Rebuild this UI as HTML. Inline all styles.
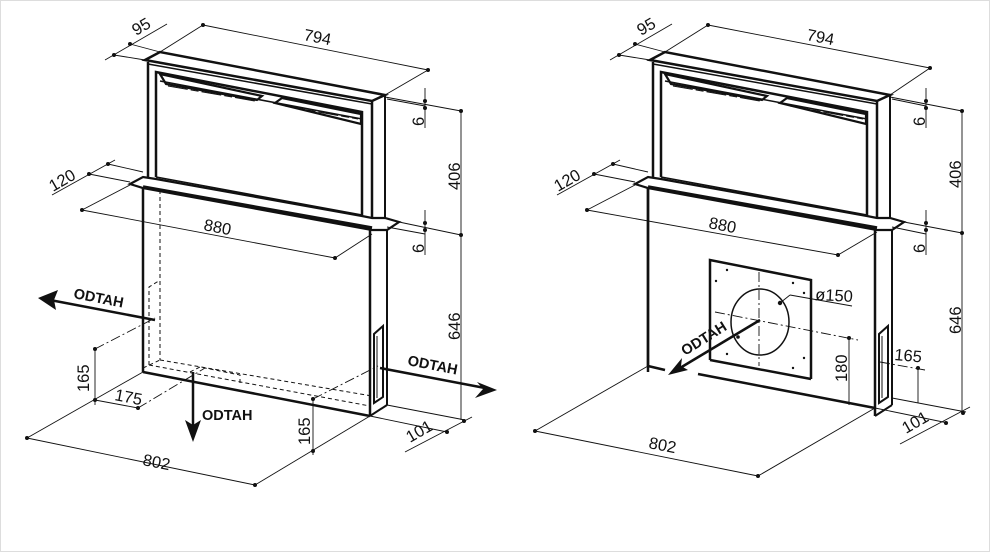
<!DOCTYPE html>
<html><head><meta charset="utf-8"><style>
html,body{margin:0;padding:0;background:#fff;}
svg{display:block}
text{font-family:"Liberation Sans",sans-serif;font-size:16.5px;fill:#111}
.b{font-weight:bold;font-size:14.5px}
</style></head><body>
<svg width="990" height="552" viewBox="0 0 990 552" xmlns="http://www.w3.org/2000/svg">
<rect x="0.5" y="0.5" width="989" height="551" fill="#fff" stroke="#ddd"/>
<defs>
<g id="hood" fill="none" stroke="#111">
  <polygon points="145,60 160,52 385,95 372,101" stroke-width="2.5" fill="#fff"/>
  <line x1="148" y1="62" x2="148" y2="180" stroke-width="2.5"/>
  <line x1="372" y1="101" x2="372" y2="224" stroke-width="2.5"/>
  <line x1="385" y1="95" x2="385" y2="220" stroke-width="2"/>
  <line x1="148" y1="64" x2="372" y2="104" stroke-width="1.5"/>
  <polyline points="156,177 156,72 362,112 362,215" stroke-width="2.5"/>
  <line x1="156" y1="177" x2="362" y2="215" stroke-width="1.5"/>
  <line x1="160" y1="81" x2="362" y2="119" stroke-width="1.5"/>
  <polygon points="160,74 166,84 257,100 262,96" stroke-width="2.2"/>
  <polygon points="275,103 282,98 361,114 361,124" stroke-width="2.2"/>
  <line x1="168" y1="86" x2="255" y2="101" stroke-width="1" stroke-dasharray="20,3,8,3"/>
  <line x1="285" y1="106" x2="358" y2="119" stroke-width="1" stroke-dasharray="20,3,8,3"/>
  <polygon points="130,184 143,177 156,179 362,216 372,218 385,218 399,222 387,230 372,230 143,188" stroke-width="2.2" fill="#fff"/>
  <line x1="143" y1="187" x2="372" y2="228" stroke-width="3.5"/>
  <line x1="143" y1="187" x2="143" y2="372" stroke-width="2.5"/>
  <line x1="370" y1="229" x2="370" y2="416" stroke-width="2.5"/>
  <line x1="387" y1="229" x2="387" y2="405" stroke-width="2"/>
  <line x1="370" y1="416" x2="387" y2="405" stroke-width="2"/>
  <polygon points="374,403 374,334 383,326 383,397" stroke-width="2"/>
  <line x1="377" y1="398" x2="377" y2="336" stroke-width="1"/>
</g>
</defs>

<use href="#hood"/>
<g fill="none" stroke="#111">
  <line x1="143" y1="372" x2="370" y2="416" stroke-width="2.5"/>
  <g stroke-width="1" stroke-dasharray="4,3">
    <line x1="160" y1="190" x2="160" y2="360"/>
    <polyline points="149,365 149,287 157,282 160,282"/>
    <line x1="149" y1="365" x2="370" y2="406"/>
    <line x1="143" y1="368" x2="160" y2="360"/>
    <line x1="160" y1="360" x2="372" y2="396"/>
    <polyline points="190,372 200,367 240,375 240,385"/>
  </g>
  <g stroke-width="0.9">
    <line x1="105" y1="60" x2="167" y2="24"/>
    <line x1="114" y1="55" x2="145" y2="60"/>
    <line x1="130" y1="44" x2="160" y2="52"/>
    <line x1="160" y1="52" x2="203" y2="25"/>
    <line x1="203" y1="25" x2="428" y2="70"/>
    <line x1="385" y1="95" x2="428" y2="70"/>
    <line x1="385" y1="97" x2="461" y2="111"/>
    <line x1="387" y1="99" x2="425" y2="106"/>
    <line x1="425" y1="88" x2="425" y2="128"/>
    <line x1="461" y1="111" x2="461" y2="420"/>
    <line x1="399" y1="222" x2="461" y2="235"/>
    <line x1="387" y1="227" x2="425" y2="234"/>
    <line x1="425" y1="210" x2="425" y2="255"/>
    <line x1="387" y1="405" x2="465" y2="420"/>
    <line x1="52" y1="195" x2="115" y2="160"/>
    <line x1="108" y1="164" x2="143" y2="172"/>
    <line x1="89" y1="174" x2="130" y2="182"/>
    <line x1="82" y1="210" x2="130" y2="185"/>
    <line x1="82" y1="210" x2="335" y2="258"/>
    <line x1="335" y1="258" x2="372" y2="234"/>
    <line x1="27" y1="438" x2="143" y2="372"/>
    <line x1="27" y1="438" x2="255" y2="485"/>
    <line x1="255" y1="485" x2="370" y2="416"/>
    <line x1="95" y1="349" x2="95" y2="405"/>
    <line x1="95" y1="400" x2="138" y2="408"/>
    <line x1="313" y1="399" x2="313" y2="455"/>
    <line x1="370" y1="416" x2="447" y2="432"/>
    <line x1="405" y1="452" x2="472" y2="417"/>
  </g>
  <g stroke-width="0.9" stroke-dasharray="10,3,2,3">
    <line x1="95" y1="349" x2="155" y2="318"/>
    <line x1="138" y1="408" x2="205" y2="368"/>
    <line x1="313" y1="399" x2="378" y2="366"/>
  </g>
  <line x1="155" y1="320" x2="50" y2="300" stroke-width="2.5"/>
  <line x1="193" y1="372" x2="193" y2="425" stroke-width="2.5"/>
  <line x1="380" y1="368" x2="485" y2="388" stroke-width="2.5"/>
</g>
<g fill="#111">
  <polygon points="38,298 58,290 54,300 56,310"/>
  <polygon points="193,442 185,420 193,425 201,420"/>
  <polygon points="497,390 477,382 483,389 475,398"/>
  <circle cx="130" cy="44" r="2"/><circle cx="114" cy="55" r="2"/>
  <circle cx="203" cy="25" r="2"/><circle cx="428" cy="70" r="2"/>
  <circle cx="425" cy="101" r="2"/><circle cx="425" cy="108" r="2"/>
  <circle cx="461" cy="111" r="2"/><circle cx="461" cy="235" r="2"/>
  <circle cx="425" cy="223" r="2"/><circle cx="425" cy="230" r="2"/>
  <circle cx="108" cy="164" r="2"/><circle cx="89" cy="174" r="2"/>
  <circle cx="82" cy="210" r="2"/><circle cx="335" cy="258" r="2"/>
  <circle cx="95" cy="349" r="2"/><circle cx="95" cy="400" r="2"/><circle cx="138" cy="408" r="2"/>
  <circle cx="27" cy="438" r="2"/><circle cx="255" cy="485" r="2"/>
  <circle cx="313" cy="399" r="2"/><circle cx="313" cy="451" r="2"/>
  <circle cx="447" cy="432" r="2"/><circle cx="464" cy="421" r="2"/>
</g>
<text transform="translate(136,36) rotate(-30)">95</text>
<text transform="translate(303,40) rotate(11)">794</text>
<text transform="translate(424,126) rotate(-90)">6</text>
<text transform="translate(460,190) rotate(-90)">406</text>
<text transform="translate(424,253) rotate(-90)">6</text>
<text transform="translate(460,340) rotate(-90)">646</text>
<text transform="translate(53,192) rotate(-30)">120</text>
<text transform="translate(203,230) rotate(11)">880</text>
<text transform="translate(89,392) rotate(-90)">165</text>
<text transform="translate(114,400) rotate(11)">175</text>
<text transform="translate(142,465) rotate(11)">802</text>
<text transform="translate(310,445) rotate(-90)">165</text>
<text transform="translate(410,443) rotate(-30)">101</text>
<text class="b" transform="translate(73,298) rotate(11)">ODTAH</text>
<text class="b" x="202" y="420">ODTAH</text>
<text class="b" transform="translate(407,365) rotate(11)">ODTAH</text>

<g transform="translate(505,0)"><use href="#hood"/></g>
<g fill="none" stroke="#111">
  <line x1="648" y1="187" x2="648" y2="366" stroke-width="2.5"/>
  <line x1="648" y1="366" x2="665" y2="370" stroke-width="2.5"/>
  <line x1="698" y1="374" x2="875" y2="408" stroke-width="2.5"/>
  <polyline points="710,360 710,260 811,280 811,379" stroke-width="2.5"/>
  <line x1="710" y1="360" x2="811" y2="379" stroke-width="2.5"/>
  <ellipse cx="760" cy="322" rx="29" ry="33" stroke-width="1.5"/>
  <g stroke-width="0.9" stroke-dasharray="10,3,2,3">
    <line x1="759" y1="272" x2="759" y2="366"/>
    <line x1="715" y1="312" x2="858" y2="340"/>
    <line x1="880" y1="362" x2="925" y2="370"/>
  </g>
  <line x1="780" y1="303" x2="790" y2="295" stroke-width="0.9"/>
  <line x1="790" y1="295" x2="852" y2="306" stroke-width="0.9"/>
  <line x1="760" y1="320" x2="680" y2="368" stroke-width="2.5"/>
  <g stroke-width="0.9">
    <line x1="610" y1="60" x2="672" y2="24"/>
    <line x1="619" y1="55" x2="650" y2="60"/>
    <line x1="635" y1="44" x2="665" y2="52"/>
    <line x1="665" y1="52" x2="708" y2="25"/>
    <line x1="708" y1="25" x2="930" y2="68"/>
    <line x1="890" y1="95" x2="930" y2="68"/>
    <line x1="890" y1="97" x2="962" y2="111"/>
    <line x1="892" y1="99" x2="926" y2="106"/>
    <line x1="926" y1="88" x2="926" y2="128"/>
    <line x1="962" y1="111" x2="962" y2="412"/>
    <line x1="904" y1="222" x2="962" y2="233"/>
    <line x1="892" y1="227" x2="926" y2="234"/>
    <line x1="926" y1="210" x2="926" y2="255"/>
    <line x1="892" y1="398" x2="966" y2="412"/>
    <line x1="557" y1="195" x2="620" y2="160"/>
    <line x1="613" y1="164" x2="648" y2="172"/>
    <line x1="594" y1="174" x2="635" y2="182"/>
    <line x1="587" y1="210" x2="635" y2="185"/>
    <line x1="587" y1="210" x2="838" y2="255"/>
    <line x1="838" y1="255" x2="877" y2="232"/>
    <line x1="535" y1="431" x2="648" y2="366"/>
    <line x1="535" y1="431" x2="758" y2="476"/>
    <line x1="758" y1="476" x2="875" y2="408"/>
    <line x1="849" y1="338" x2="849" y2="405"/>
    <line x1="918" y1="368" x2="918" y2="403"/>
    <line x1="875" y1="408" x2="948" y2="423"/>
    <line x1="900" y1="444" x2="970" y2="407"/>
  </g>
</g>
<g fill="#111">
  <polygon points="668,375 682,358 681,366 688,370"/>
  <circle cx="780" cy="303" r="2.2"/><circle cx="738" cy="337" r="1.8"/>
  <circle cx="727" cy="270" r="1.2"/><circle cx="716" cy="281" r="1.2"/><circle cx="793" cy="283" r="1.2"/><circle cx="804" cy="293" r="1.2"/>
  <circle cx="727" cy="354" r="1.2"/><circle cx="804" cy="358" r="1.2"/><circle cx="793" cy="368" r="1.2"/>
  <circle cx="635" cy="44" r="2"/><circle cx="619" cy="55" r="2"/>
  <circle cx="708" cy="25" r="2"/><circle cx="930" cy="68" r="2"/>
  <circle cx="926" cy="101" r="2"/><circle cx="926" cy="108" r="2"/>
  <circle cx="962" cy="111" r="2"/><circle cx="962" cy="233" r="2"/>
  <circle cx="926" cy="223" r="2"/><circle cx="926" cy="230" r="2"/>
  <circle cx="613" cy="164" r="2"/><circle cx="594" cy="174" r="2"/>
  <circle cx="587" cy="210" r="2"/><circle cx="838" cy="255" r="2"/>
  <circle cx="535" cy="431" r="2"/><circle cx="758" cy="476" r="2"/>
  <circle cx="849" cy="338" r="2"/><circle cx="918" cy="368" r="2"/>
  <circle cx="946" cy="423" r="2"/><circle cx="963" cy="413" r="2"/>
</g>
<text transform="translate(641,36) rotate(-30)">95</text>
<text transform="translate(806,40) rotate(11)">794</text>
<text transform="translate(925,126) rotate(-90)">6</text>
<text transform="translate(961,188) rotate(-90)">406</text>
<text transform="translate(925,253) rotate(-90)">6</text>
<text transform="translate(961,334) rotate(-90)">646</text>
<text transform="translate(558,192) rotate(-30)">120</text>
<text transform="translate(708,228) rotate(11)">880</text>
<text transform="translate(815,300) rotate(3)">ø150</text>
<text transform="translate(847,382) rotate(-90)">180</text>
<text transform="translate(894,360) rotate(5)">165</text>
<text transform="translate(648,448) rotate(11)">802</text>
<text transform="translate(906,434) rotate(-30)">101</text>
<text class="b" transform="translate(685,356) rotate(-32)">ODTAH</text>
</svg>
</body></html>
